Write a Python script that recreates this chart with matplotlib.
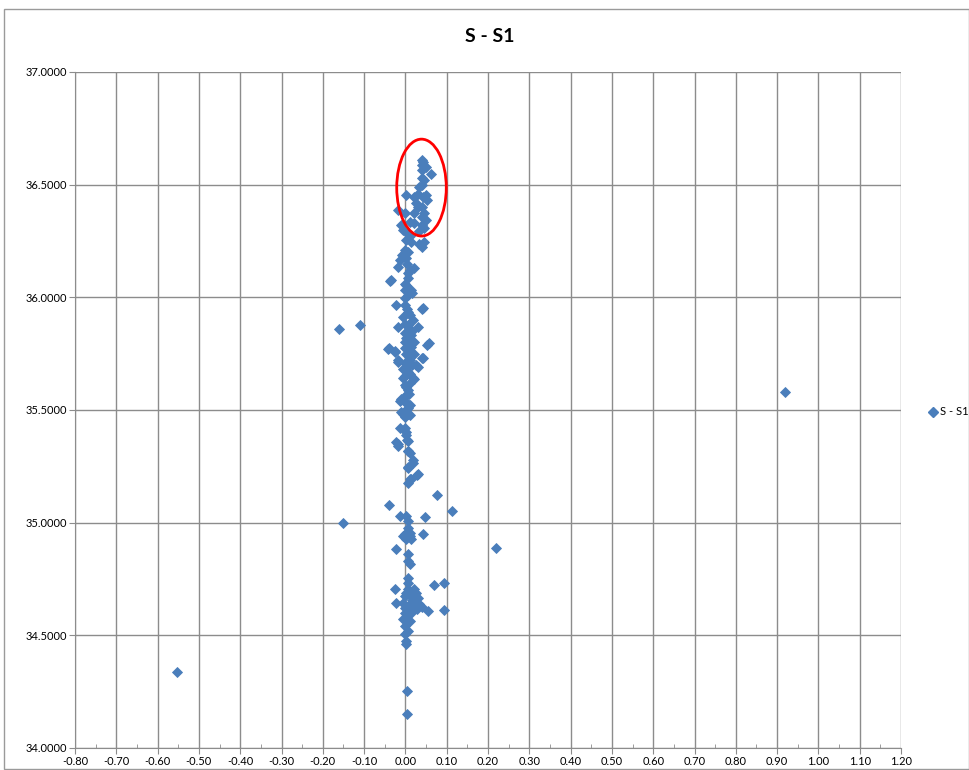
import matplotlib
matplotlib.use("Agg")
import matplotlib.pyplot as plt
from matplotlib.ticker import MultipleLocator, FormatStrFormatter
from matplotlib.lines import Line2D
from matplotlib.patches import Rectangle, Ellipse

series_name = "S - S1"

x_vals = [
    # top cluster
    0.039, 0.043, 0.041, 0.051, 0.039, 0.063, 0.041, 0.046, 0.039, 0.034,
    0.002, 0.022, 0.043, 0.051, 0.053, 0.026, 0.041, -0.019, -0.002, 0.046,
    0.022, 0.041, 0.051, 0.010, -0.010, 0.041, 0.046, 0.034, 0.005, 0.002,
    0.014, 0.046, 0.034, 0.039,
    # upper column
    -0.002, 0.007, -0.014, 0.002, -0.017, 0.022, 0.007, -0.034, 0.007, 0.002,
    -0.002, 0.014, 0.007, -0.002, -0.022, 0.043, -0.002, 0.007, -0.005, 0.019,
    -0.017, 0.031, 0.007, -0.002, 0.014, 0.058, 0.007,
    # middle column
    -0.039, -0.026, -0.002, 0.014, 0.007, 0.039, -0.017, 0.026, -0.005, 0.007,
    0.019, -0.005, -0.002, 0.007, -0.010, 0.002, 0.007, -0.005, 0.010, -0.010,
    -0.002, -0.002, 0.002, -0.022, 0.007,
    -0.041, -0.024, 0.043, -0.017, 0.031, 0.022, -0.012, 0.007, -0.012, 0.002,
    0.005, -0.017, 0.007, 0.019, 0.007, 0.031, 0.010,
    # lower middle
    -0.017, 0.007, 0.010, 0.019, 0.007, 0.029, 0.014, 0.007, -0.014, 0.002,
    0.007, 0.048, 0.007, -0.002, 0.010, -0.005, 0.002, 0.014, 0.043,
    # bottom cluster
    -0.022, 0.007, 0.007, 0.010, 0.007, 0.007, -0.026, 0.070, 0.094, 0.007,
    0.022, -0.002, 0.014, 0.031, -0.022, -0.005, 0.022, 0.007, 0.034, 0.055,
    0.094, -0.002, 0.014, -0.005, 0.010, -0.002, 0.007, -0.002, 0.002, 0.002,
    0.002, 0.019, 0.026, 0.000, 0.005, 0.017, 0.029, 0.041,
    # outliers
    -0.554, -0.160, -0.110, -0.152, 0.220, 0.920, 0.114, 0.077, -0.039, 0.003,
    0.003, 0.053, 0.039, -0.038,
    # dense core fill
    0.005, 0.012, 0.000, 0.010, 0.017, 0.002, 0.020, 0.000, 0.012, 0.002,
    0.020, 0.010, 0.000, 0.015, 0.005, 0.012, 0.000, 0.010, 0.002, 0.008,
    0.000, 0.005, 0.012, 0.002, 0.015, 0.000, 0.010, 0.005, -0.008, 0.012,
    -0.005, 0.022, 0.030, 0.030, 0.005, 0.012, 0.000,
]

y_vals = [
    # top cluster
    36.609, 36.600, 36.587, 36.578, 36.564, 36.547, 36.529, 36.520, 36.498, 36.490,
    36.453, 36.444, 36.444, 36.453, 36.431, 36.418, 36.400, 36.387, 36.373, 36.373,
    36.373, 36.356, 36.342, 36.333, 36.320, 36.320, 36.307, 36.296, 36.284, 36.253,
    36.244, 36.244, 36.238, 36.222,
    # upper column
    36.209, 36.200, 36.164, 36.173, 36.133, 36.129, 36.107, 36.076, 36.084, 36.053,
    36.031, 36.031, 36.009, 35.996, 35.964, 35.951, 35.964, 35.933, 35.911, 35.898,
    35.867, 35.867, 35.876, 35.840, 35.831, 35.796, 35.809,
    # middle column
    35.773, 35.764, 35.773, 35.778, 35.742, 35.729, 35.720, 35.698, 35.684, 35.667,
    35.640, 35.640, 35.609, 35.587, 35.551, 35.533, 35.511, 35.484, 35.476, 35.489,
    35.467, 35.422, 35.387, 35.356, 35.364,
    35.769, 35.756, 35.729, 35.711, 35.689, 35.636, 35.542, 35.484, 35.422, 35.404,
    35.369, 35.347, 35.320, 35.267, 35.249, 35.218, 35.196,
    # lower middle
    35.342, 35.320, 35.311, 35.276, 35.244, 35.213, 35.196, 35.178, 35.031, 35.031,
    35.009, 35.027, 34.978, 34.951, 34.942, 34.942, 34.929, 34.929, 34.951,
    # bottom cluster
    34.884, 34.862, 34.831, 34.818, 34.756, 34.733, 34.707, 34.724, 34.733, 34.707,
    34.707, 34.676, 34.676, 34.667, 34.644, 34.644, 34.644, 34.631, 34.640, 34.609,
    34.613, 34.600, 34.600, 34.573, 34.564, 34.542, 34.520, 34.507, 34.476, 34.462,
    34.690, 34.620, 34.690, 34.620, 34.585, 34.655, 34.615, 34.625,
    # outliers
    34.338, 35.858, 35.876, 35.000, 34.889, 35.582, 35.053, 35.124, 35.080, 34.253,
    34.151, 35.787, 35.947, 36.071,
    # dense core fill
    35.950, 35.920, 35.880, 35.860, 35.850, 35.820, 35.800, 35.800, 35.760, 35.750,
    35.750, 35.720, 35.710, 35.700, 35.690, 35.660, 35.650, 35.620, 35.600, 35.570,
    35.560, 35.530, 35.520, 35.500, 36.020, 36.060, 36.120, 36.150, 36.190, 36.270,
    36.300, 36.330, 36.400, 36.460, 34.950, 34.955, 34.935,
]

x_min, x_max = -0.80, 1.20
y_min, y_max = 34.0, 37.0

# highlighted region (red ellipse): center, width, height in data units
highlight_center = (0.039, 36.487)
highlight_width = 0.12
highlight_height = 0.43

plt.rcParams['font.family'] = ['Lato', 'DejaVu Sans']

fig = plt.figure(figsize=(9.7, 7.7), dpi=100)
fig.patch.set_facecolor('white')
# chart border
fig.add_artist(Rectangle((4 / 970, 1 / 770), 965 / 970, 760 / 770,
                         transform=fig.transFigure, fill=False,
                         edgecolor='#9a9a9a', linewidth=1.0))

ax = fig.add_axes([75 / 970, 1 - 748 / 770, 826 / 970, 676 / 770])
blue = '#4a7ebb'
ax.plot(x_vals, y_vals, linestyle='none', marker='D', markersize=5.2,
        markerfacecolor=blue, markeredgecolor=blue, markeredgewidth=0.6,
        zorder=3, clip_on=False)

ax.add_patch(Ellipse(highlight_center, highlight_width, highlight_height,
                     fill=False, edgecolor='#ff0000', linewidth=2.0, zorder=4))

ax.set_xlim(x_min, x_max)
ax.set_ylim(y_min, y_max)
ax.xaxis.set_major_locator(MultipleLocator(0.1))
ax.xaxis.set_minor_locator(MultipleLocator(0.05))
ax.yaxis.set_major_locator(MultipleLocator(0.5))
ax.xaxis.set_major_formatter(FormatStrFormatter('%.2f'))
ax.yaxis.set_major_formatter(FormatStrFormatter('%.4f'))

ax.grid(True, which='major', color='#8c8c8c', linewidth=1.0, zorder=0)
ax.set_axisbelow(True)
for side in ['top', 'right']:
    ax.spines[side].set_visible(False)
ax.spines['left'].set_color('#8c8c8c')
ax.spines['bottom'].set_color('#8c8c8c')
ax.tick_params(axis='both', which='major', direction='out', length=4,
               color='#8c8c8c', labelsize=8, labelcolor='#000000', pad=2)
ax.tick_params(axis='x', which='minor', direction='in', length=3,
               color='#8c8c8c')

fig.text(0.505, 1 - 37 / 770, series_name, ha='center', va='center',
         fontsize=14, fontweight='bold', color='#000000')

handle = Line2D([], [], linestyle='none', marker='D', markersize=5,
                markerfacecolor=blue, markeredgecolor=blue)
fig.legend([handle], [series_name], loc='center left',
           bbox_to_anchor=(924 / 970, 1 - 412 / 770), frameon=False,
           fontsize=8, handlelength=0.6, handletextpad=0.3, borderpad=0)

fig.savefig('out.png', dpi=100)
